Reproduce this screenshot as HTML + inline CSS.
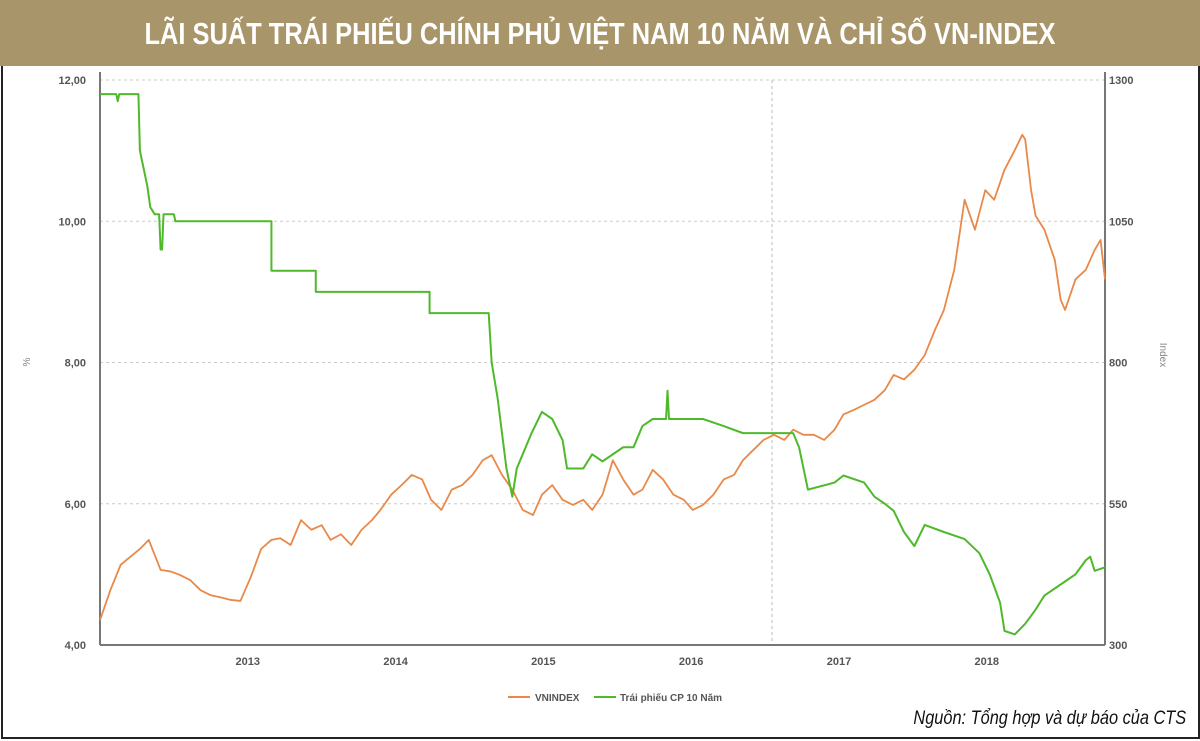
<!DOCTYPE html>
<html><head><meta charset="utf-8"><style>
body{margin:0;background:#fff}
#wrap{position:relative;width:1200px;height:741px;overflow:hidden;background:#fff}
#frame{position:absolute;left:1px;top:0;width:1195px;height:737px;border-left:2px solid #222;border-right:2px solid #222;border-bottom:2px solid #222}
#title{position:absolute;left:0;top:0;width:1200px;height:66px;background:#a8956a}
#title span{position:absolute;left:600px;top:0;white-space:nowrap;color:#fff;font:bold 31px "Liberation Sans",sans-serif;line-height:68px;transform:translateX(-50%) scaleX(0.82);transform-origin:0 0}
#title span{transform-origin:center;left:0;width:1200px;text-align:center;transform:scaleX(0.82)}
#src{position:absolute;right:14px;top:708px;font:italic 19px "Liberation Sans",sans-serif;color:#111;transform:scaleX(0.86);transform-origin:right center;white-space:nowrap}
svg{position:absolute;left:0;top:0}
</style></head><body>
<div id="wrap">
<div id="frame"></div>
<div id="title"><span>LÃI SUẤT TRÁI PHIẾU CHÍNH PHỦ VIỆT NAM 10 NĂM VÀ CHỈ SỐ VN-INDEX</span></div>
<svg id="chart" width="1200" height="741"></svg>
<div id="src">Nguồn: Tổng hợp và dự báo của CTS</div>
</div>
<script>
const yearTicks=[2013,2014,2015,2016,2017,2018];
const leftTicks=[4,6,8,10,12];
const leftTickLabels=["4,00","6,00","8,00","10,00","12,00"];
const rightTicks=[300,550,800,1050,1300];
const vnDates=[2012.00,2012.07,2012.14,2012.20,2012.27,2012.33,2012.41,2012.48,2012.54,2012.61,2012.68,2012.75,2012.82,2012.88,2012.95,2013.02,2013.09,2013.16,2013.22,2013.29,2013.36,2013.43,2013.50,2013.56,2013.63,2013.70,2013.77,2013.84,2013.90,2013.97,2014.04,2014.11,2014.18,2014.24,2014.31,2014.38,2014.45,2014.52,2014.59,2014.65,2014.72,2014.79,2014.86,2014.93,2014.99,2015.06,2015.13,2015.20,2015.27,2015.33,2015.40,2015.47,2015.54,2015.61,2015.67,2015.74,2015.81,2015.88,2015.95,2016.01,2016.08,2016.15,2016.22,2016.29,2016.35,2016.42,2016.49,2016.56,2016.63,2016.69,2016.76,2016.83,2016.90,2016.97,2017.03,2017.10,2017.17,2017.24,2017.31,2017.37,2017.44,2017.51,2017.58,2017.65,2017.71,2017.78,2017.85,2017.92,2017.99,2018.05,2018.12,2018.19,2018.24,2018.26,2018.30,2018.33,2018.39,2018.46,2018.50,2018.53,2018.60,2018.67,2018.73,2018.77,2018.80];
const vnValues=[344,397,442,455,470,486,433,430,424,415,397,388,384,380,378,420,470,486,489,477,521,504,512,486,496,477,504,521,540,566,583,601,593,557,539,575,583,601,627,636,601,575,539,530,566,583,557,548,557,539,566,627,593,566,575,610,593,566,557,539,548,566,593,601,627,645,663,672,663,681,672,672,663,681,708,716,725,734,751,778,770,787,813,858,893,964,1088,1035,1105,1088,1141,1176,1203,1195,1105,1060,1035,982,911,893,947,964,999,1017,947];
const bondDates=[2012.00,2012.11,2012.12,2012.13,2012.26,2012.27,2012.29,2012.32,2012.34,2012.37,2012.40,2012.41,2012.42,2012.43,2012.50,2012.51,2013.16,2013.16,2013.46,2013.46,2014.23,2014.23,2014.63,2014.65,2014.69,2014.72,2014.75,2014.79,2014.82,2014.92,2014.99,2015.06,2015.13,2015.16,2015.27,2015.33,2015.40,2015.54,2015.61,2015.67,2015.74,2015.83,2015.84,2015.85,2015.88,2016.08,2016.22,2016.35,2016.69,2016.73,2016.79,2016.97,2017.03,2017.17,2017.24,2017.31,2017.37,2017.44,2017.51,2017.58,2017.71,2017.85,2017.95,2018.02,2018.09,2018.12,2018.19,2018.26,2018.33,2018.39,2018.46,2018.60,2018.67,2018.70,2018.73,2018.80];
const bondValues=[11.8,11.8,11.7,11.8,11.8,11.0,10.8,10.5,10.2,10.1,10.1,9.6,9.6,10.1,10.1,10.0,10.0,9.3,9.3,9.0,9.0,8.7,8.7,8.0,7.5,7.0,6.5,6.1,6.5,7.0,7.3,7.2,6.9,6.5,6.5,6.7,6.6,6.8,6.8,7.1,7.2,7.2,7.6,7.2,7.2,7.2,7.1,7.0,7.0,6.8,6.2,6.3,6.4,6.3,6.1,6.0,5.9,5.6,5.4,5.7,5.6,5.5,5.3,5.0,4.6,4.2,4.15,4.3,4.5,4.7,4.8,5.0,5.2,5.25,5.05,5.1];
const X0=100,X1=1105,Y0=80,Y1=645,T0=2012.0,T1=2018.8;
function xs(t){return X0+(t-T0)/(T1-T0)*(X1-X0);}
function yl(v){return Y1-(v-4)/8*(Y1-Y0);}
function yr(v){return Y1-(v-300)/1000*(Y1-Y0);}
const NS="http://www.w3.org/2000/svg";
const svg=document.getElementById('chart');
function mk(tag,attrs){const e=document.createElementNS(NS,tag);for(const k in attrs)e.setAttribute(k,attrs[k]);svg.appendChild(e);return e;}
const F='font-family:"Liberation Sans",sans-serif;font-weight:bold;font-size:11px;fill:#555';
leftTicks.forEach((v,i)=>{
  const g=mk('line',{x1:X0,x2:X1,y1:yl(v),y2:yl(v),stroke:'#ccc','stroke-dasharray':'3,3'});
  
  
  const t=mk('text',{x:X0-14,y:yl(v)+4,'text-anchor':'end',style:F});t.textContent=leftTickLabels[i];
  
  
});
rightTicks.forEach(v=>{
  const t=mk('text',{x:X1+4,y:yr(v)+4,style:F});t.textContent=v;
  
  
});
yearTicks.forEach(y=>{
  const t=mk('text',{x:xs(y),y:665,'text-anchor':'middle',style:F});t.textContent=y;
  
  
});
const vl=mk('line',{x1:772,x2:772,y1:Y0,y2:Y1,stroke:'#bbb','stroke-dasharray':'3,3'});


const la=mk('line',{x1:X0,x2:X0,y1:Y0-8,y2:Y1,stroke:'#777','stroke-width':2});


const ra=mk('line',{x1:X1,x2:X1,y1:Y0-8,y2:Y1,stroke:'#777','stroke-width':2});


const ba=mk('line',{x1:X0,x2:X1,y1:Y1,y2:Y1,stroke:'#777','stroke-width':2});


const yt=mk('text',{x:30,y:362,'text-anchor':'middle',style:'font-family:"Liberation Sans",sans-serif;font-size:10px;fill:#888',transform:'rotate(-90 30 362)'});yt.textContent='%';


const yt2=mk('text',{x:1160,y:355,'text-anchor':'middle',style:'font-family:"Liberation Sans",sans-serif;font-size:10px;fill:#888',transform:'rotate(90 1160 355)'});yt2.textContent='Index';


const p1=mk('polyline',{points:vnDates.map((d,i)=>xs(d)+','+yr(vnValues[i])).join(' '),fill:'none',stroke:'#e8894a','stroke-width':1.8,'stroke-linejoin':'round'});


const p2=mk('polyline',{points:bondDates.map((d,i)=>xs(d)+','+yl(bondValues[i])).join(' '),fill:'none',stroke:'#4fb92c','stroke-width':2,'stroke-linejoin':'round'});


const l1=mk('line',{x1:508,x2:530,y1:697,y2:697,stroke:'#e8894a','stroke-width':2});


const t1=mk('text',{x:535,y:701,style:'font-family:"Liberation Sans",sans-serif;font-weight:bold;font-size:10px;fill:#555'});t1.textContent='VNINDEX';


const l2=mk('line',{x1:594,x2:616,y1:697,y2:697,stroke:'#4fb92c','stroke-width':2});


const t2=mk('text',{x:620,y:701,style:'font-family:"Liberation Sans",sans-serif;font-weight:bold;font-size:10px;fill:#555'});t2.textContent='Trái phiếu CP 10 Năm';


</script>
</body></html>
